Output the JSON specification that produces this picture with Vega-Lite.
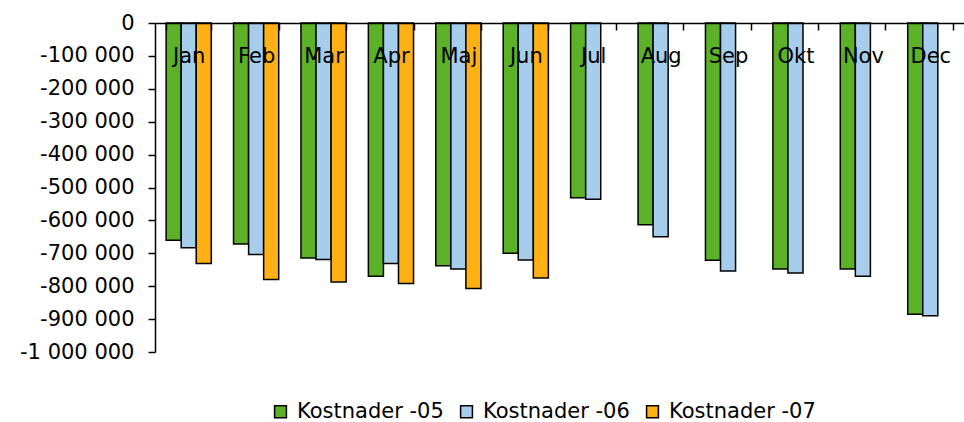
{
  "$schema": "https://vega.github.io/schema/vega-lite/v6.json",
  "autosize": {"type": "none"},
  "width": 809,
  "height": 329,
  "padding": {"left": 155, "top": 23, "right": 0, "bottom": 70},
  "background": "white",
  "config": {
    "locale": {
      "number": {"decimal": ",", "thousands": " ", "grouping": [3], "currency": ["", " kr"], "minus": "-"}
    },
    "view": {"stroke": null},
    "font": "DejaVu Sans",
    "axis": {"grid": false, "domainColor": "#000", "tickColor": "#000", "labelColor": "#000", "labelFont": "DejaVu Sans"}
  },
  "data": {
    "values": [
      {"month": "Jan", "series": "Kostnader -05", "value": -660000},
      {"month": "Jan", "series": "Kostnader -06", "value": -683000},
      {"month": "Jan", "series": "Kostnader -07", "value": -731000},
      {"month": "Feb", "series": "Kostnader -05", "value": -672000},
      {"month": "Feb", "series": "Kostnader -06", "value": -704000},
      {"month": "Feb", "series": "Kostnader -07", "value": -780000},
      {"month": "Mar", "series": "Kostnader -05", "value": -714000},
      {"month": "Mar", "series": "Kostnader -06", "value": -719000},
      {"month": "Mar", "series": "Kostnader -07", "value": -787000},
      {"month": "Apr", "series": "Kostnader -05", "value": -770000},
      {"month": "Apr", "series": "Kostnader -06", "value": -731000},
      {"month": "Apr", "series": "Kostnader -07", "value": -792000},
      {"month": "Maj", "series": "Kostnader -05", "value": -738000},
      {"month": "Maj", "series": "Kostnader -06", "value": -748000},
      {"month": "Maj", "series": "Kostnader -07", "value": -807000},
      {"month": "Jun", "series": "Kostnader -05", "value": -700000},
      {"month": "Jun", "series": "Kostnader -06", "value": -720000},
      {"month": "Jun", "series": "Kostnader -07", "value": -775000},
      {"month": "Jul", "series": "Kostnader -05", "value": -531000},
      {"month": "Jul", "series": "Kostnader -06", "value": -536000},
      {"month": "Aug", "series": "Kostnader -05", "value": -613000},
      {"month": "Aug", "series": "Kostnader -06", "value": -650000},
      {"month": "Sep", "series": "Kostnader -05", "value": -721000},
      {"month": "Sep", "series": "Kostnader -06", "value": -754000},
      {"month": "Okt", "series": "Kostnader -05", "value": -748000},
      {"month": "Okt", "series": "Kostnader -06", "value": -760000},
      {"month": "Nov", "series": "Kostnader -05", "value": -748000},
      {"month": "Nov", "series": "Kostnader -06", "value": -770000},
      {"month": "Dec", "series": "Kostnader -05", "value": -885000},
      {"month": "Dec", "series": "Kostnader -06", "value": -890000}
    ]
  },
  "mark": {"type": "bar", "stroke": "#000", "strokeWidth": 1.5},
  "encoding": {
    "x": {
      "field": "month",
      "type": "nominal",
      "sort": ["Jan", "Feb", "Mar", "Apr", "Maj", "Jun", "Jul", "Aug", "Sep", "Okt", "Nov", "Dec"],
      "scale": {"paddingInner": 0.33, "paddingOuter": 0.165},
      "axis": {
        "orient": "top",
        "zindex": 1,
        "title": null,
        "labelAngle": 0,
        "labelFontSize": 21,
        "labelBaseline": "top",
        "labelPadding": -15,
        "tickBand": "extent",
        "tickSize": -7,
        "tickWidth": 1.5,
        "domainWidth": 1.5
      }
    },
    "xOffset": {
      "field": "series",
      "type": "nominal",
      "sort": ["Kostnader -05", "Kostnader -06", "Kostnader -07"],
      "scale": {"paddingInner": 0, "paddingOuter": 0}
    },
    "y": {
      "field": "value",
      "type": "quantitative",
      "scale": {"domain": [-1000000, 0], "nice": false},
      "axis": {
        "title": null,
        "values": [0, -100000, -200000, -300000, -400000, -500000, -600000, -700000, -800000, -900000, -1000000],
        "format": ",d",
        "labelFontSize": 21,
        "tickSize": 7,
        "labelPadding": 14,
        "tickWidth": 1.5,
        "domainWidth": 1.5
      }
    },
    "color": {
      "field": "series",
      "type": "nominal",
      "sort": ["Kostnader -05", "Kostnader -06", "Kostnader -07"],
      "scale": {
        "domain": ["Kostnader -05", "Kostnader -06", "Kostnader -07"],
        "range": ["#5BB226", "#A6CDEB", "#FFB012"]
      },
      "legend": {
        "title": null,
        "orient": "none",
        "direction": "horizontal",
        "legendX": 115,
        "legendY": 378,
        "symbolType": "square",
        "symbolSize": 140,
        "symbolStrokeColor": "#000",
        "symbolStrokeWidth": 1.5,
        "symbolOpacity": 1,
        "labelFontSize": 21,
        "labelColor": "#000",
        "labelFont": "DejaVu Sans",
        "labelOffset": 6,
        "columnPadding": 12,
        "labelLimit": 300
      }
    }
  }
}
